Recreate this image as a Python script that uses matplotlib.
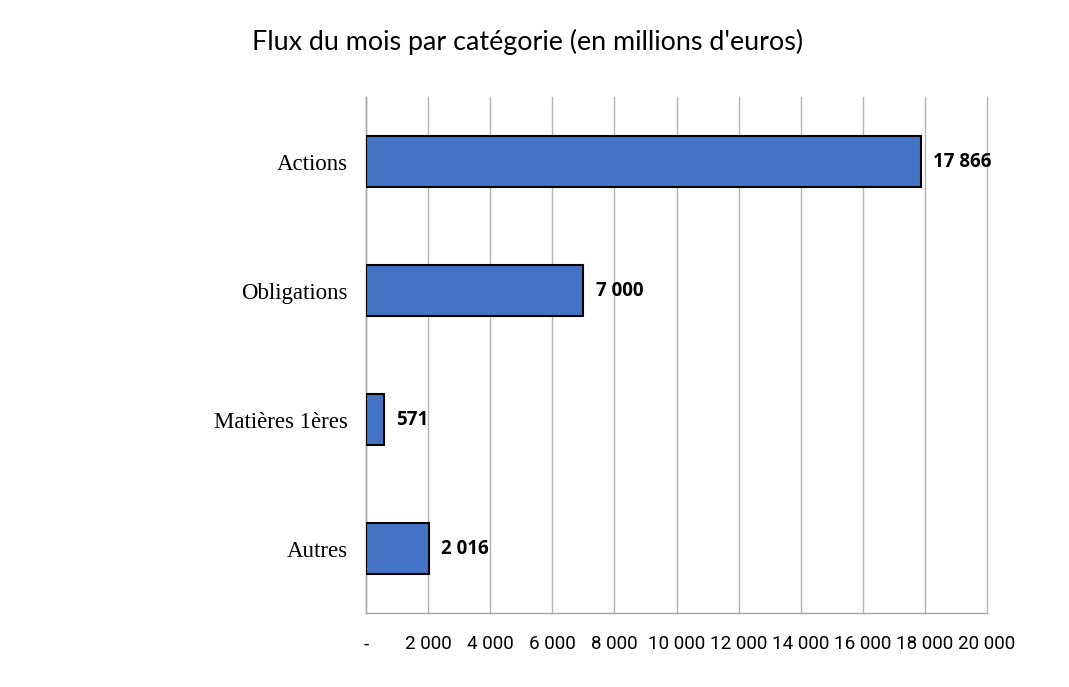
import numpy as np
import matplotlib.pyplot as plt
from matplotlib.ticker import FuncFormatter

categories = ['Actions', 'Obligations', 'Matières 1ères', 'Autres']
values = [17866, 7000, 571, 2016]
xticks = list(range(0, 20001, 2000))

def fmt(v, pos=None):
    if v == 0:
        return '-'
    return '{:,.0f}'.format(v).replace(',', ' ')

fig = plt.figure(figsize=(10.69, 6.87), dpi=100)
ax = fig.add_axes([0.3424, 0.1077, 0.5809, 0.7511])

y = np.arange(len(categories))
ax.barh(y, values, height=0.4, color='#4472C4', edgecolor='black', linewidth=1.5, zorder=3)
ax.set_ylim(len(categories) - 0.5, -0.5)
ax.set_xlim(0, 20000)
ax.set_xticks(xticks)
ax.xaxis.set_major_formatter(FuncFormatter(fmt))
ax.set_yticks(y)
ax.set_yticklabels(categories, family='Liberation Serif', fontsize=16.5)
for lab in ax.get_xticklabels():
    lab.set_family('Roboto')
    lab.set_fontsize(13.6)
ax.tick_params(axis='x', length=0, pad=16)
ax.tick_params(axis='y', length=0, pad=13)
ax.grid(axis='x', color='#b3b3b3', linewidth=1, zorder=0)
for gl in ax.get_xgridlines():
    gl.set_clip_on(False)

for s in ['top', 'right']:
    ax.spines[s].set_visible(False)
for s in ['left', 'bottom']:
    ax.spines[s].set_color('#a6a6a6')
    ax.spines[s].set_linewidth(1)

for yi, v in zip(y, values):
    ax.annotate(fmt(v), (v, yi), xytext=(9, 0), textcoords='offset points',
                va='center', ha='left', fontsize=13.5, fontweight='bold', family='Open Sans')

fig.text(528 / 1069, 1 - 42 / 687, "Flux du mois par catégorie (en millions d'euros)",
         ha='center', va='center', fontsize=19.4, family='Lato')

fig.savefig('out.png', dpi=100)
